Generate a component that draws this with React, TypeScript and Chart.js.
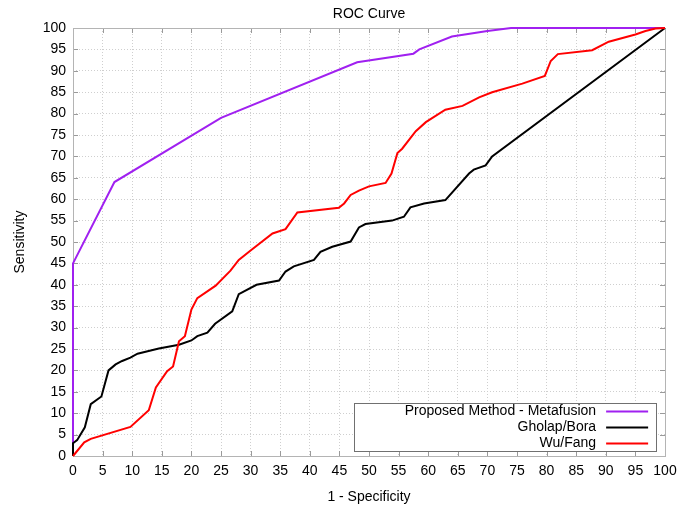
import React, { useEffect, useRef } from "react";
import { Chart, registerables } from "chart.js";

Chart.register(...registerables);

const chartTitle = "ROC Curve";
const xAxisTitle = "1 - Specificity";
const yAxisTitle = "Sensitivity";
const axisMin = 0;
const axisMax = 100;
const tickStep = 5;

const metaLabel = "Proposed Method - Metafusion";
const metaX = [0, 0, 7, 25, 48, 57.5, 58.5, 64, 70, 74, 100];
const metaY = [0, 45, 64, 79, 92, 94, 95, 98, 99.3, 100, 100];

const gholapLabel = "Gholap/Bora";
const gholapX = [0, 0, 0.7, 2, 3, 4.8, 6, 7.2, 8.3, 9.7, 10.9, 14.5, 17.9, 20, 21, 22.7, 24, 26.9, 28, 31, 34.8, 35.9, 37.3, 40.7, 41.8, 43.8, 46.9, 48.3, 49.4, 53.9, 55.9, 57, 59.3, 62.9, 66.9, 67.7, 69.7, 70.8, 100];
const gholapY = [0, 3, 3.7, 6.7, 12.1, 13.9, 20, 21.4, 22.2, 23, 23.9, 25.1, 26, 27, 28, 28.8, 30.9, 33.8, 37.8, 40, 41, 43.1, 44.3, 45.8, 47.7, 48.9, 50.1, 53.4, 54.2, 55, 55.9, 58.1, 59, 59.8, 66, 66.9, 67.9, 70, 100];

const wuLabel = "Wu/Fang";
const wuX = [0, 1.9, 3, 9.7, 12.8, 14, 15.9, 16.9, 17.9, 18.9, 20, 21, 24.1, 26.6, 28, 30, 33.7, 35.9, 37.9, 44.9, 45.8, 46.9, 48.3, 50, 52.8, 53.8, 54.8, 55.6, 57.9, 59.6, 62.9, 65.8, 68.6, 70.8, 75.9, 79.7, 80.7, 81.9, 87.7, 90.5, 95, 96.7, 98.4, 100];
const wuY = [0, 3.2, 4, 6.8, 10.7, 16, 19.8, 20.9, 26.8, 28, 34.2, 36.9, 39.8, 43.3, 45.8, 48, 52, 53, 56.9, 58, 59, 61, 62, 63, 63.8, 66, 70.8, 71.8, 75.9, 78, 80.9, 81.8, 83.8, 85, 87, 88.8, 92.3, 93.9, 94.8, 96.8, 98.5, 99.3, 99.9, 100];

const metaColor = "#a020f0";
const gholapColor = "#000000";
const wuColor = "#ff0000";

const FONT = "'Liberation Sans', Arial, Helvetica, sans-serif";

const toPoints = (xs: number[], ys: number[]) => xs.map((x, i) => ({ x, y: ys[i] }));

const frameAndTicks = {
  id: "frameAndTicks",
  beforeDatasetsDraw(chart: any) {
    const { ctx, chartArea, scales } = chart;
    const { left, right, top, bottom } = chartArea;
    ctx.save();
    ctx.strokeStyle = "#9a9a9a";
    ctx.lineWidth = 1;
    ctx.beginPath();
    const len = 5;
    for (const t of scales.x.ticks) {
      const px = Math.round(scales.x.getPixelForValue(t.value)) + 0.5;
      ctx.moveTo(px, bottom);
      ctx.lineTo(px, bottom - len);
      ctx.moveTo(px, top);
      ctx.lineTo(px, top + len);
    }
    for (const t of scales.y.ticks) {
      const py = Math.round(scales.y.getPixelForValue(t.value)) + 0.5;
      ctx.moveTo(left, py);
      ctx.lineTo(left + len, py);
      ctx.moveTo(right, py);
      ctx.lineTo(right - len, py);
    }
    ctx.stroke();
    ctx.strokeStyle = "#b4b4b4";
    ctx.strokeRect(Math.round(left) + 0.5, Math.round(top) + 0.5, Math.round(right - left), Math.round(bottom - top));
    ctx.restore();
  },
  afterDraw(chart: any) {
    const { ctx, chartArea } = chart;
    ctx.save();
    ctx.font = `14px ${FONT}`;
    ctx.fillStyle = "#000";
    ctx.textAlign = "center";
    ctx.textBaseline = "middle";
    ctx.fillText(chartTitle, (chartArea.left + chartArea.right) / 2, 14.5);
    ctx.restore();
  },
};

const boxLegend = {
  id: "boxLegend",
  afterDraw(chart: any) {
    const { ctx, scales } = chart;
    const boxLeft = scales.x.getPixelForValue(47.5);
    const boxRight = scales.x.getPixelForValue(98.5);
    const boxTop = scales.y.getPixelForValue(12.3);
    const boxBottom = scales.y.getPixelForValue(1);
    ctx.save();
    ctx.fillStyle = "#ffffff";
    ctx.fillRect(boxLeft, boxTop, boxRight - boxLeft, boxBottom - boxTop);
    ctx.strokeStyle = "#707070";
    ctx.lineWidth = 1;
    ctx.strokeRect(Math.round(boxLeft) + 0.5, Math.round(boxTop) + 0.5, Math.round(boxRight - boxLeft), Math.round(boxBottom - boxTop));
    const order = [2, 1, 0];
    const rowH = 16;
    const firstY = boxTop + 7.5;
    ctx.font = `14px ${FONT}`;
    ctx.textAlign = "right";
    ctx.textBaseline = "middle";
    order.forEach((di, i) => {
      const ds = chart.data.datasets[di];
      const y = firstY + i * rowH;
      ctx.fillStyle = "#000";
      ctx.fillText(ds.label, boxRight - 60, y);
      ctx.strokeStyle = ds.borderColor;
      ctx.lineWidth = 2;
      ctx.beginPath();
      ctx.moveTo(boxRight - 50, Math.round(y) + 0.5);
      ctx.lineTo(boxRight - 8, Math.round(y) + 0.5);
      ctx.stroke();
    });
    ctx.restore();
  },
};

export default function App() {
  const canvasRef = useRef<HTMLCanvasElement | null>(null);

  useEffect(() => {
    const canvas = canvasRef.current;
    if (!canvas) return;
    const common = { borderWidth: 2, pointRadius: 0, tension: 0, fill: false, clip: false };
    const chart = new Chart(canvas, {
      type: "line",
      data: {
        datasets: [
          { label: wuLabel, data: toPoints(wuX, wuY), borderColor: wuColor, backgroundColor: wuColor, ...common },
          { label: gholapLabel, data: toPoints(gholapX, gholapY), borderColor: gholapColor, backgroundColor: gholapColor, ...common },
          { label: metaLabel, data: toPoints(metaX, metaY), borderColor: metaColor, backgroundColor: metaColor, ...common },
        ],
      },
      options: {
        responsive: false,
        animation: false,
        layout: { padding: { top: 28, right: 28, bottom: 0, left: 0 } },
        plugins: {
          legend: { display: false },
          tooltip: { enabled: false },
          title: { display: false },
        },
        scales: {
          x: {
            type: "linear",
            min: axisMin,
            max: axisMax,
            ticks: { stepSize: tickStep, color: "#000", font: { family: FONT, size: 14 }, padding: 7, maxRotation: 0, autoSkip: false },
            grid: { color: "#cfcfcf", lineWidth: 1, drawTicks: false },
            border: { display: false, dash: [1, 2] },
            title: { display: true, text: xAxisTitle, color: "#000", font: { family: FONT, size: 14 }, padding: { top: 0, bottom: 2 } },
            afterFit: (s: any) => { s.height = 52; },
          },
          y: {
            type: "linear",
            min: axisMin,
            max: axisMax,
            ticks: { stepSize: tickStep, color: "#000", font: { family: FONT, size: 14 }, padding: 7, autoSkip: false },
            grid: { color: "#cfcfcf", lineWidth: 1, drawTicks: false },
            border: { display: false, dash: [1, 2] },
            title: { display: true, text: yAxisTitle, color: "#000", font: { family: FONT, size: 14 }, padding: { top: 12, bottom: 0 } },
            afterFit: (s: any) => { s.width = 73; },
          },
        },
      },
      plugins: [frameAndTicks, boxLegend],
    } as any);
    return () => chart.destroy();
  }, []);

  return (
    <div style={{ position: "fixed", left: 0, top: 0, width: 693, height: 508, background: "#fff" }}>
      <canvas ref={canvasRef} width={693} height={508} style={{ display: "block" }} />
    </div>
  );
}
